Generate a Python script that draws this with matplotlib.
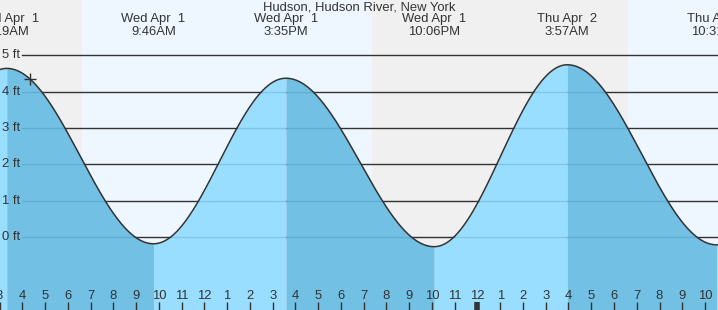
import numpy as np
import matplotlib
matplotlib.use('Agg')
import matplotlib.pyplot as plt
from matplotlib.transforms import blended_transform_factory

plt.rcParams['font.family'] = ['Liberation Sans', 'DejaVu Sans']

# Marés: horas desde 00:00 de 1 de abril, alturas em pés
horas_mare = [-2.5, 3.317, 9.767, 15.583, 22.1, 27.95, 34.517, 40.5]
alturas_mare = [-0.2, 4.64, -0.18, 4.37, -0.26, 4.74, -0.21, 4.5]

# Rótulos do topo (dia / hora) para os extremos visíveis
rotulo_horas = [3.317, 9.767, 15.583, 22.1, 27.95, 34.517]
rotulo_dias = ['Wed Apr  1', 'Wed Apr  1', 'Wed Apr  1', 'Wed Apr  1', 'Thu Apr  2', 'Thu Apr  2']
rotulo_textos = ['3:19AM', '9:46AM', '3:35PM', '10:06PM', '3:57AM', '10:31AM']

# Nascer / pôr do sol
nascer_sol = [6.62, 30.61]
por_sol = [19.36]

# Eixo y
alturas_grade = [0, 1, 2, 3, 4, 5]
hora_atual = 4.34

titulo = 'Hudson, Hudson River, New York'

x_min, x_max = 3.02, 34.57
y_min, y_max = -2.0, 6.52
W, H = 718, 310
fs = 9.4

cor_texto = '#333333'
cor_noite = '#f0f0f0'
cor_dia = '#eef7ff'
cor_sobe = '#99ddff'
cor_desce = '#72c0e4'

fig = plt.figure(figsize=(W / 100, H / 100), dpi=100)
ax = fig.add_axes([0, 0, 1, 1])
ax.set_xlim(x_min, x_max)
ax.set_ylim(y_min, y_max)
ax.axis('off')

# Fundo dia / noite
ax.axvspan(x_min, nascer_sol[0], color=cor_noite, lw=0, zorder=0)
ax.axvspan(nascer_sol[0], por_sol[0], color=cor_dia, lw=0, zorder=0)
ax.axvspan(por_sol[0], nascer_sol[1], color=cor_noite, lw=0, zorder=0)
ax.axvspan(nascer_sol[1], x_max, color=cor_dia, lw=0, zorder=0)

# Linhas de grade
x_grade = 22 / W
for a in alturas_grade:
    ax.axhline(a, xmin=x_grade, xmax=1, color=cor_texto, lw=1, zorder=1)

# Curva da maré (interpolação cosseno entre extremos)
def curva(t):
    out = np.zeros_like(t)
    for i in range(len(horas_mare) - 1):
        t0, t1 = horas_mare[i], horas_mare[i + 1]
        a0, a1 = alturas_mare[i], alturas_mare[i + 1]
        m = (t >= t0) & (t <= t1)
        fase = (t[m] - t0) / (t1 - t0)
        out[m] = a1 + (a0 - a1) * (1 + np.cos(np.pi * fase)) / 2
    return out

t = np.linspace(x_min - 0.1, x_max + 0.1, 1500)
y = curva(t)

clip_polys = []
for i in range(len(horas_mare) - 1):
    t0, t1 = horas_mare[i], horas_mare[i + 1]
    ts = np.linspace(t0, t1, 200)
    ys = curva(ts)
    cor = cor_desce if alturas_mare[i] > alturas_mare[i + 1] else cor_sobe
    p = ax.fill_between(ts, y_min, ys, color=cor, lw=0, zorder=2)
    clip_polys.append(p)

# grade vista através do preenchimento
for p in clip_polys:
    for a in alturas_grade:
        ln = ax.axhline(a, xmin=x_grade, xmax=1, color='#1a5a80', alpha=0.18, lw=1, zorder=3)
        ln.set_clip_path(p.get_paths()[0], ax.transData)

ax.plot(t, y, color=cor_texto, lw=1.1, zorder=4)
ax.plot([hora_atual], curva(np.array([hora_atual])), marker='+', ms=8, mew=1,
        color=cor_texto, zorder=5)

# Rótulos do eixo y
tr_y = blended_transform_factory(ax.transAxes, ax.transData)
for a in alturas_grade:
    ax.text(20 / W, a, f'{a} ft', transform=tr_y, ha='right', va='center',
            fontsize=fs, color=cor_texto, zorder=6)

# Rótulos das horas e marcas
tr_x = blended_transform_factory(ax.transData, ax.transAxes)
for hr in range(3, 35):
    rot = hr % 12
    if rot == 0:
        rot = 12
    ax.text(hr, 1 - 296 / H, str(rot), transform=tr_x, ha='center', va='center',
            fontsize=fs, color=cor_texto, zorder=6)
    lw = 4 if hr == 24 else 1
    ax.plot([hr, hr], [0, 8 / H], transform=tr_x, color=cor_texto, lw=lw,
            solid_capstyle='butt', zorder=6)

# Título e rótulos do topo
fig.text(0.5, 1 - 7 / H, titulo, ha='center', va='center', fontsize=fs, color=cor_texto)
for hr, dia, txt in zip(rotulo_horas, rotulo_dias, rotulo_textos):
    ax.text(hr, 1 - 19 / H, dia, transform=tr_x, ha='center', va='center',
            fontsize=fs, color=cor_texto, zorder=6)
    ax.text(hr, 1 - 32 / H, txt, transform=tr_x, ha='center', va='center',
            fontsize=fs, color=cor_texto, zorder=6)

fig.savefig('out.png', dpi=100)
